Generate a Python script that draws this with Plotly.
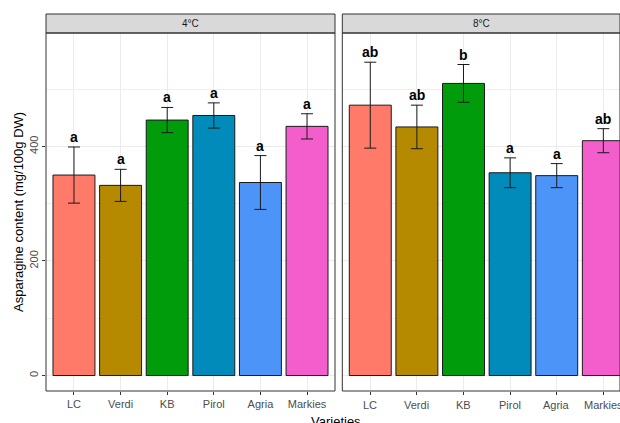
import plotly.graph_objects as go

# Asparagine content by variety at two storage temperatures
varieties = ["LC", "Verdi", "KB", "Pirol", "Agria", "Markies"]
colors = ["#FF7A69", "#B58900", "#009C0C", "#008BBB", "#4C94F8", "#F45ECC"]

mean_4C = [350, 332, 446, 454, 337, 435]
se_4C = [49, 28, 22, 22, 47, 22]
letters_4C = ["a", "a", "a", "a", "a", "a"]

mean_8C = [472, 434, 510, 354, 349, 410]
se_8C = [75, 38, 33, 26, 21, 21]
letters_8C = ["ab", "ab", "b", "a", "a", "ab"]

panels = [("4°C", mean_4C, se_4C, letters_4C, "x", "y"),
          ("8°C", mean_8C, se_8C, letters_8C, "x2", "y2")]

W, H = 620, 423
ML, MR, MT, MB = 46, 0, 33, 32
plot_w = W - ML - MR
plot_h = H - MT - MB

def px_x(p):
    return (p - ML) / plot_w

def px_y(p):
    return (H - MB - p) / plot_h

FONT = "Liberation Sans, Arial, sans-serif"
TICK_FONT = dict(family=FONT, size=11, color="#4D4D4D")
fig = go.Figure()
annotations = []
shapes = []

idx = list(range(1, len(varieties) + 1))

for title, means, ses, letters, xa, ya in panels:
    fig.add_trace(go.Bar(
        x=idx, y=means, width=0.9,
        marker=dict(color=colors, line=dict(color="#1a1a1a", width=1)),
        error_y=dict(type="data", array=ses, arrayminus=ses, visible=True,
                     color="#1a1a1a", thickness=1, width=6),
        xaxis=xa, yaxis=ya, showlegend=False, hoverinfo="skip",
    ))
    for i, m, s, t in zip(idx, means, ses, letters):
        annotations.append(dict(
            x=i, y=m + s, xref=xa, yref=ya, text="<b>%s</b>" % t,
            showarrow=False, yanchor="bottom", xanchor="center",
            font=dict(family=FONT, size=14, color="black"),
        ))

# panel domains
left_dom = [0, px_x(335)]
right_dom = [px_x(342.3), 1]
unit_px = (335 - 46) / 6.2
right_hi = 0.4 + (W - 342.3) / unit_px

yrange = [-27, 598]
axis_common = dict(
    showline=False, zeroline=False, ticklen=3,
    tickcolor="#333333", tickwidth=1,
    gridcolor="#EBEBEB", gridwidth=1,
    tickfont=TICK_FONT,
)
minor_grid = dict(tickvals=[100, 300, 500], showgrid=True,
                  gridcolor="#EFEFEF", gridwidth=1, ticks="")

fig.update_layout(
    width=W, height=H,
    margin=dict(l=ML, r=MR, t=MT, b=MB),
    paper_bgcolor="white", plot_bgcolor="white",
    xaxis=dict(domain=left_dom, range=[0.4, 6.6], tickvals=idx,
               ticktext=varieties, anchor="y", ticks="outside", **axis_common),
    xaxis2=dict(domain=right_dom, range=[0.4, right_hi], tickvals=idx,
                showticklabels=False, anchor="y2", ticks="outside",
                **axis_common),
    yaxis=dict(domain=[0, 1], range=yrange, tickvals=[0, 200, 400],
               tickangle=-90, anchor="x", ticks="outside", minor=minor_grid,
               **axis_common),
    yaxis2=dict(domain=[0, 1], range=yrange, tickvals=[0, 200, 400],
                showticklabels=False, anchor="x2", ticks="", minor=minor_grid,
                **axis_common),
)

# category labels of the right panel (the last one runs off the edge)
for i, name in zip(idx, varieties):
    annotations.append(dict(x=i, y=px_y(405), xref="x2", yref="paper",
                            text=name, showarrow=False,
                            xanchor="center", yanchor="middle",
                            font=TICK_FONT))

strip_top = px_y(14)
for title, dom in (("4°C", left_dom), ("8°C", right_dom)):
    # facet strip
    shapes.append(dict(type="rect", xref="paper", yref="paper",
                       x0=dom[0], x1=dom[1], y0=1, y1=strip_top,
                       fillcolor="#D9D9D9", line=dict(color="#333333", width=1),
                       layer="above"))
    annotations.append(dict(x=(dom[0] + dom[1]) / 2, y=(1 + strip_top) / 2,
                            xref="paper", yref="paper", text=title,
                            showarrow=False, xanchor="center", yanchor="middle",
                            font=dict(family=FONT, size=10, color="#1A1A1A")))
    # panel border
    shapes.append(dict(type="rect", xref="paper", yref="paper",
                       x0=dom[0], x1=dom[1], y0=0, y1=1,
                       fillcolor="rgba(0,0,0,0)",
                       line=dict(color="#333333", width=1), layer="above"))

annotations.append(dict(x=px_x(18), y=0.5, xref="paper", yref="paper",
                        text="Asparagine content (mg/100g DW)", textangle=-90,
                        showarrow=False, xanchor="center", yanchor="middle",
                        font=dict(family=FONT, size=13, color="black")))
annotations.append(dict(x=px_x(336), y=px_y(412), xref="paper", yref="paper",
                        text="Varieties", showarrow=False,
                        xanchor="center", yanchor="top",
                        font=dict(family=FONT, size=13, color="black")))

fig.update_layout(annotations=annotations, shapes=shapes)
fig.write_html("out.html")
